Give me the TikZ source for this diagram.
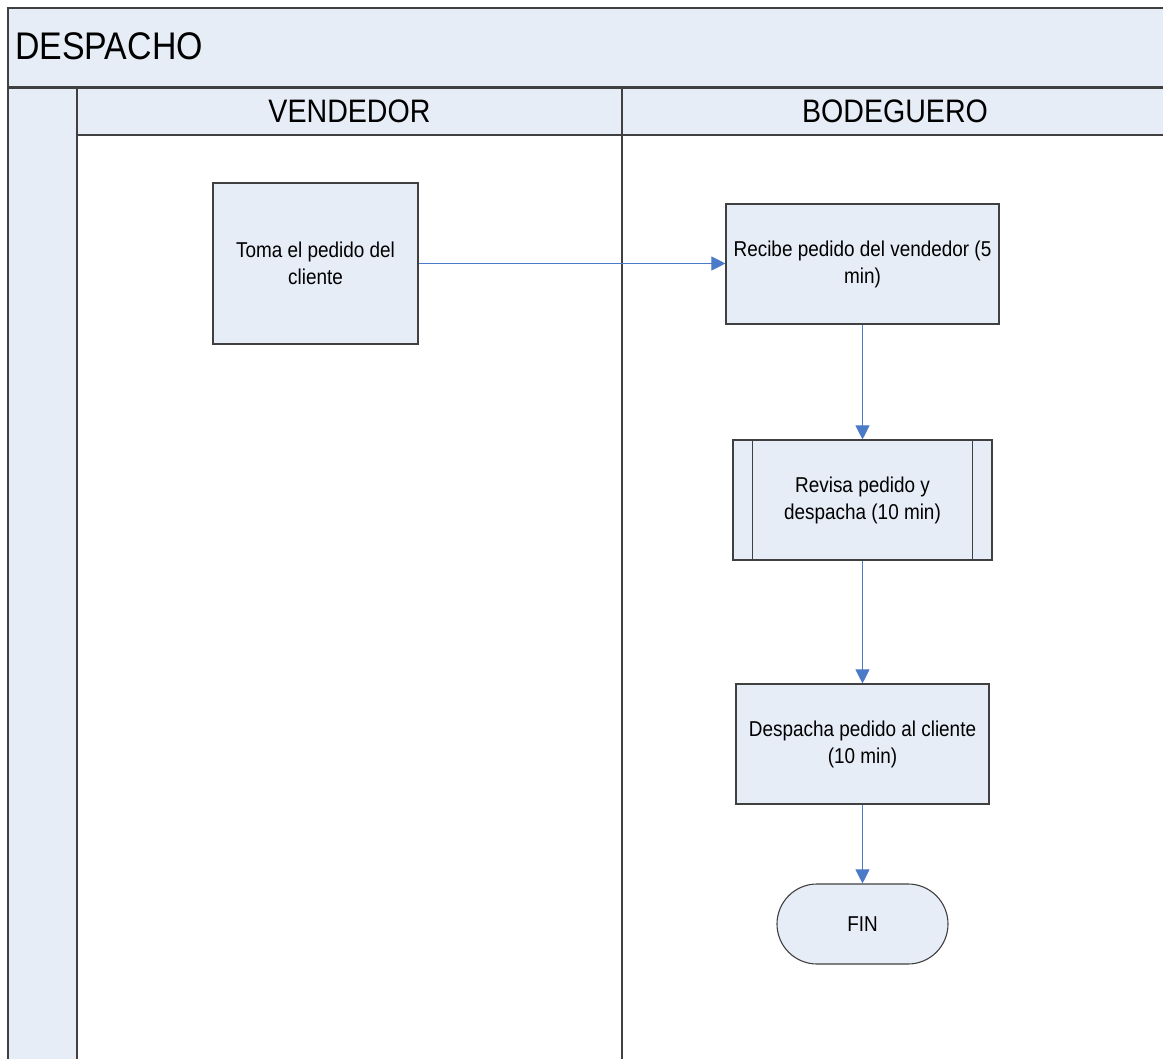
\documentclass[tikz,border=0pt]{standalone}
\usepackage{fontspec}
\setmainfont{Liberation Sans}[FakeStretch=0.88]
\usetikzlibrary{arrows.meta,shapes.misc}
\definecolor{lane}{HTML}{E7EDF7}
\definecolor{frame}{HTML}{404040}
\definecolor{flowblue}{HTML}{4A7BC8}
\begin{document}
\begin{tikzpicture}[x=1pt,y=-1pt,
  poolpart/.style={fill=lane, draw=frame, line width=1.5pt},
  task/.style={draw=frame, line width=1.1pt, fill=lane, align=center,
    font=\fontsize{21.5}{27}\selectfont, inner sep=0pt},
  terminal/.style={task, rounded rectangle},
  flow/.style={draw=flowblue, line width=0.9pt, -{Triangle[length=14pt,width=14pt]}}]
\useasboundingbox (0,0) rectangle (1163,1059);

% pool frame, lane headers and lane separators
\begin{scope}
  \clip (0,0) rectangle (1163,1059);
  \draw[poolpart] (8,8) rectangle (1190,87);
  \draw[poolpart] (8,88) rectangle (77,1090);
  \draw[poolpart] (77,88) rectangle (622,135);
  \draw[poolpart] (622,88) rectangle (1168,135);
  \draw[frame, line width=1.5pt] (622,135) -- (622,1090);
  \draw[frame, line width=1.5pt] (1168,135) -- (1168,1090);
\end{scope}

\node[anchor=west, inner sep=0pt, font=\fontsize{38.5}{40}\selectfont] (pool) at (15,46) {DESPACHO};
\node[inner sep=0pt, font=\fontsize{32.5}{34}\selectfont] (laneA) at (349.5,111.5) {VENDEDOR};
\node[inner sep=0pt, font=\fontsize{32.5}{34}\selectfont] (laneB) at (895,111.5) {BODEGUERO};

% process steps
\node[task, minimum width=205pt, minimum height=161pt] (b1) at (315.5,263.5)
  {Toma el pedido del\\cliente};
\node[task, minimum width=273pt, minimum height=120pt] (b2) at (862.5,264)
  {Recibe pedido del vendedor (5\\min)};
\node[task, minimum width=259pt, minimum height=120pt] (b3) at (862.5,500)
  {Revisa pedido y\\despacha (10 min)};
\draw[frame, line width=1.1pt] ([xshift=20pt]b3.north west) -- ([xshift=20pt]b3.south west);
\draw[frame, line width=1.1pt] ([xshift=-20pt]b3.north east) -- ([xshift=-20pt]b3.south east);
\node[task, minimum width=253pt, minimum height=120pt] (b4) at (862.5,744)
  {Despacha pedido al cliente\\(10 min)};
\node[terminal, minimum width=171pt, minimum height=80pt] (fin) at (862.5,924) {FIN};

% connectors
\draw[flow] (b1.east) -- (b1.east -| b2.west);
\draw[flow] (b2) -- (b3);
\draw[flow] (b3) -- (b4);
\draw[flow] (b4) -- (fin);
\end{tikzpicture}
\end{document}
